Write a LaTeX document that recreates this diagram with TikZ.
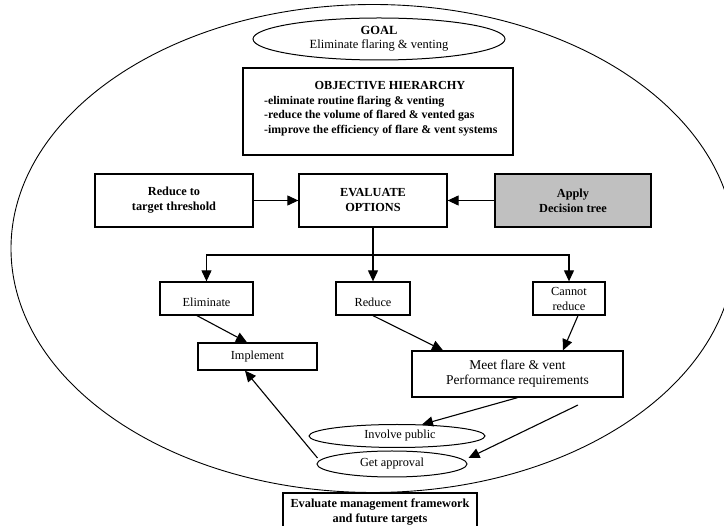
\documentclass[tikz,border=0pt]{standalone}
\usepackage{fontspec}
\setmainfont{Liberation Serif}
\usetikzlibrary{arrows.meta,shapes.geometric,calc}

\tikzset{
  box/.style={draw=black, line width=1.3pt, rectangle, inner sep=0pt, align=center},
  oval/.style={draw=black, line width=1pt, ellipse, inner sep=0pt, align=center},
  arr/.style={draw=black, line width=1.1pt, -{Triangle[length=11pt,width=10pt]}},
  ttl/.style={font=\fontsize{12.3}{15}\selectfont\bfseries},
  txt/.style={font=\fontsize{12.3}{15}\selectfont},
}

\begin{document}
\begin{tikzpicture}[x=1pt,y=-1pt]
\useasboundingbox (0,0) rectangle (724,526);
\clip (0,0) rectangle (724,526);

% outer boundary
\draw[line width=0.9pt] (373,248.5) ellipse [x radius=362, y radius=244];

% goal
\node[oval, minimum width=252, minimum height=42, font=\fontsize{12.5}{14}\selectfont] (goal) at (379,39)
  {\textbf{GOAL}\\Eliminate flaring \& venting};

% objective hierarchy
\node[box, minimum width=270, minimum height=87] (obj) at (378,111.5) {};
\node[ttl] (objtitle) at (390,86) {OBJECTIVE HIERARCHY};
\node[anchor=west, align=left, inner sep=0pt, font=\fontsize{11.8}{14.2}\selectfont\bfseries] (objlist) at (264,116)
  {-eliminate routine flaring \& venting\\
   -reduce the volume of flared \& vented gas\\
   -improve the efficiency of flare \& vent systems};

% evaluation row
\node[box, ttl, minimum width=158, minimum height=53] (thresh) at (174,200.5) {Reduce to\\target threshold};
\node[box, ttl, minimum width=148, minimum height=53] (eval) at (373,200.5) {EVALUATE\\OPTIONS};
\node[box, ttl, fill={rgb,255:red,192;green,192;blue,192}, minimum width=156, minimum height=53] (apply) at (573,200.5) {Apply\\Decision tree};

% options
\node[box, txt, minimum width=93, minimum height=33] (elim) at (206.5,298.5) {\raisebox{-5pt}[0.7em][0.2em]{Eliminate}};
\node[box, txt, minimum width=74, minimum height=33] (red) at (373,298.5) {\raisebox{-5pt}[0.7em][0.2em]{Reduce}};
\node[box, txt, minimum width=72, minimum height=33] (cannot) at (569,298.5) {Cannot\\reduce};

\node[box, txt, minimum width=119, minimum height=27] (impl) at (257.5,356.5) {Implement};
\node[box, font=\fontsize{13.5}{15}\selectfont, minimum width=211, minimum height=46] (meet) at (517.5,374)
  {Meet flare \& vent\\Performance requirements};

\node[oval, txt, minimum width=176, minimum height=23] (inv) at (397,436) {\hspace*{6pt}Involve public};
\node[oval, txt, minimum width=150, minimum height=26] (appr) at (392,464) {Get approval};

\node[box, ttl, minimum width=194, minimum height=38] (mgmt) at (380,512)
  {Evaluate management framework\\and future targets};

% connectors
\coordinate (split) at (373,255);
\coordinate (loose) at (578,405);

\draw[arr] (thresh) -- (eval);
\draw[arr] (apply) -- (eval);
\draw[arr] (eval) -- (red);
\draw[arr] (split) -| (elim.north);
\draw[arr] (split) -| (cannot.north);

\draw[arr] ([xshift=-9.5pt]elim.south) -- ([xshift=-10.5pt]impl.north);
\draw[arr] (red.south) -- ([xshift=-74.5pt]meet.north);
\draw[arr] ([xshift=9pt]cannot.south) -- ([xshift=45.5pt]meet.north);
\draw[arr] (meet.south) -- ([xshift=25pt,yshift=-0.5pt]inv.north);
\draw[arr] (loose) -- ([xshift=1pt,yshift=6pt]appr.east);
\draw[arr] ([yshift=6pt,xshift=1pt]appr.west) -- ([xshift=-12.5pt]impl.south);
\end{tikzpicture}
\end{document}
